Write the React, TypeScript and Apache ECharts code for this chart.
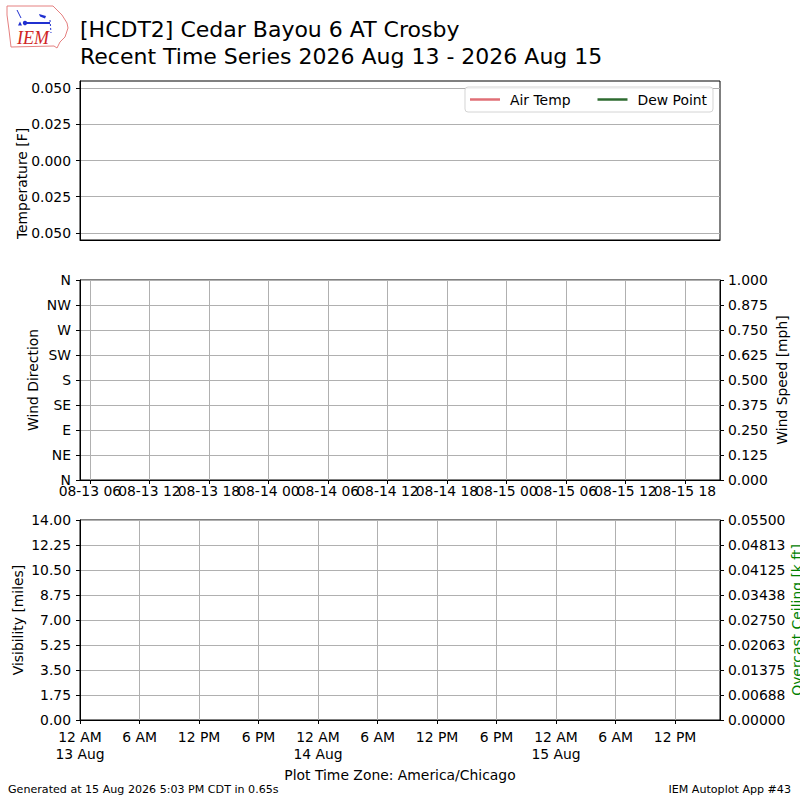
import React, { useEffect, useRef } from 'react';
import * as echarts from 'echarts';

const TITLE_LINE1 = '[HCDT2] Cedar Bayou 6 AT Crosby';
const TITLE_LINE2 = 'Recent Time Series 2026 Aug 13 - 2026 Aug 15';
const FOOTER_LEFT = 'Generated at 15 Aug 2026 5:03 PM CDT in 0.65s';
const FOOTER_RIGHT = 'IEM Autoplot App #43';
const TIMEZONE_LABEL = 'Plot Time Zone: America/Chicago';

const TIME_START = '2026-08-13T05:00:00Z';
const TIME_END = '2026-08-15T21:32:00Z';

// Observations: the station reported nothing in this window
const airTempF: [string, number][] = [];
const dewPointF: [string, number][] = [];
const windDirDeg: [string, number][] = [];
const windSpeedMph: [string, number][] = [];
const visibilityMiles: [string, number][] = [];
const ceilingKft: [string, number][] = [];

const tempTicks = [-0.05, -0.025, 0, 0.025, 0.05];
const windDirLabels = ['N', 'NE', 'E', 'SE', 'S', 'SW', 'W', 'NW', 'N'];

const utcTickTimes = [
  '2026-08-13T06:00:00Z', '2026-08-13T12:00:00Z', '2026-08-13T18:00:00Z',
  '2026-08-14T00:00:00Z', '2026-08-14T06:00:00Z', '2026-08-14T12:00:00Z',
  '2026-08-14T18:00:00Z', '2026-08-15T00:00:00Z', '2026-08-15T06:00:00Z',
  '2026-08-15T12:00:00Z', '2026-08-15T18:00:00Z',
];
const utcTickLabels = [
  '08-13 06', '08-13 12', '08-13 18', '08-14 00', '08-14 06', '08-14 12',
  '08-14 18', '08-15 00', '08-15 06', '08-15 12', '08-15 18',
];
const localTickTimes = [
  '2026-08-13T05:00:00Z', '2026-08-13T11:00:00Z', '2026-08-13T17:00:00Z',
  '2026-08-13T23:00:00Z', '2026-08-14T05:00:00Z', '2026-08-14T11:00:00Z',
  '2026-08-14T17:00:00Z', '2026-08-14T23:00:00Z', '2026-08-15T05:00:00Z',
  '2026-08-15T11:00:00Z', '2026-08-15T17:00:00Z',
];
const localTickLabels = [
  '12 AM\n13 Aug', '6 AM', '12 PM', '6 PM', '12 AM\n14 Aug', '6 AM',
  '12 PM', '6 PM', '12 AM\n15 Aug', '6 AM', '12 PM',
];

const FONT = 'DejaVu Sans';
const FS = 13.9;
const GRID_COLOR = '#b0b0b0';
const AIR_COLOR = '#e06f76';
const DEW_COLOR = '#2e6b30';
const CEIL_COLOR = '#008000';
const LOGO_BLUE = '#2030d0';

const toMs = (s: string) => Date.parse(s);
const toPts = (arr: [string, number][]) => arr.map(([t, v]) => [toMs(t), v]);

function labelFrom(times: string[], labels: string[]) {
  const ms = times.map(toMs);
  return (v: number) => {
    const i = ms.findIndex((m) => Math.abs(m - v) < 1000);
    return i >= 0 ? labels[i] : '';
  };
}

export default function App() {
  const ref = useRef<HTMLDivElement>(null);

  useEffect(() => {
    if (!ref.current) return;
    const chart = echarts.init(ref.current, undefined, { renderer: 'svg' });
    const xmin = toMs(TIME_START);
    const xmax = toMs(TIME_END);
    const utcMs = utcTickTimes.map(toMs);
    const localMs = localTickTimes.map(toMs);
    // the axis ends carry blank labels so that no real label is treated as the min/max one
    const utcLabelMs = [xmin, ...utcMs, xmax];
    const txt = { fontFamily: FONT, fontSize: FS, color: '#000' };
    const axisLine = { show: true, onZero: false, lineStyle: { color: '#000', width: 1 } };
    const tick = { show: true, length: 4, lineStyle: { color: '#000', width: 1 } };
    const split = { show: true, lineStyle: { color: GRID_COLOR, width: 1 } };
    const gridBase = {
      left: 80, right: 80, show: true, borderColor: '#000', borderWidth: 1,
      containLabel: false, outerBoundsMode: 'none',
    };
    const yName = (name: string, gap: number, extra: any = {}) => ({
      name,
      nameLocation: 'middle',
      nameRotate: 90,
      nameGap: gap,
      nameMoveOverlap: false,
      nameTextStyle: { ...txt, lineHeight: 14, ...extra },
    });

    const option: any = {
      animation: false,
      backgroundColor: '#fff',
      textStyle: { fontFamily: FONT },
      title: {
        text: TITLE_LINE1 + '\n' + TITLE_LINE2,
        left: 80,
        top: 15.5,
        padding: 0,
        textStyle: { fontFamily: FONT, fontSize: 22, lineHeight: 27, fontWeight: 'normal', color: '#000' },
      },
      legend: {
        data: ['Air Temp', 'Dew Point'],
        right: 87,
        top: 87,
        icon: 'rect',
        itemWidth: 30,
        itemHeight: 2.5,
        itemGap: 27,
        padding: [5, 6, 5, 5],
        borderColor: '#d4d4d4',
        borderWidth: 1,
        borderRadius: 3,
        backgroundColor: 'rgba(255,255,255,0.85)',
        textStyle: { fontFamily: FONT, fontSize: FS, color: '#000', lineHeight: 15, padding: [0, 0, 0, 5] },
      },
      grid: [
        { ...gridBase, top: 81, height: 159 },
        { ...gridBase, top: 280, height: 200 },
        { ...gridBase, top: 520, height: 200 },
      ],
      xAxis: [
        {
          type: 'value', gridIndex: 0, min: xmin, max: xmax,
          axisLine, axisTick: { show: false }, axisLabel: { show: false }, splitLine: { show: false },
        },
        {
          type: 'value', gridIndex: 1, min: xmin, max: xmax,
          axisLine,
          axisTick: { ...tick, customValues: utcMs },
          axisLabel: {
            ...txt, margin: 4, lineHeight: 14, customValues: utcLabelMs,
            showMinLabel: false, showMaxLabel: false, hideOverlap: false,
            formatter: labelFrom(utcTickTimes, utcTickLabels),
          },
          splitLine: { ...split, customValues: utcMs },
        },
        {
          type: 'value', gridIndex: 2, min: xmin, max: xmax,
          axisLine,
          axisTick: { ...tick, customValues: localMs },
          axisLabel: {
            ...txt, margin: 8, lineHeight: 17, customValues: localMs,
            showMinLabel: true, showMaxLabel: true, hideOverlap: false,
            formatter: labelFrom(localTickTimes, localTickLabels),
          },
          splitLine: { ...split, customValues: localMs },
          name: TIMEZONE_LABEL,
          nameLocation: 'middle',
          nameGap: 48,
          nameMoveOverlap: false,
          nameTextStyle: { ...txt },
        },
      ],
      yAxis: [
        {
          type: 'value', gridIndex: 0, min: -0.055, max: 0.055,
          axisLine,
          axisTick: { ...tick, customValues: tempTicks },
          axisLabel: { ...txt, margin: 9, customValues: tempTicks, formatter: (v: number) => Math.abs(v).toFixed(3) },
          splitLine: { ...split, customValues: tempTicks },
          ...yName('Temperature [F]', 51, { padding: [0, 46, 0, 0] }),
        },
        {
          type: 'value', gridIndex: 1, min: 0, max: 360, interval: 45,
          axisLine, axisTick: tick,
          axisLabel: { ...txt, margin: 9, formatter: (v: number) => windDirLabels[Math.round(v / 45)] ?? '' },
          splitLine: split,
          ...yName('Wind Direction', 40),
        },
        {
          type: 'value', gridIndex: 1, position: 'right', min: 0, max: 1, interval: 0.125,
          axisLine, axisTick: tick,
          axisLabel: { ...txt, margin: 8, formatter: (v: number) => v.toFixed(3) },
          splitLine: { show: false },
          ...yName('Wind Speed [mph]', 55),
        },
        {
          type: 'value', gridIndex: 2, min: 0, max: 14, interval: 1.75,
          axisLine, axisTick: tick,
          axisLabel: { ...txt, margin: 9, formatter: (v: number) => v.toFixed(2) },
          splitLine: split,
          ...yName('Visibility [miles]', 55.5),
        },
        {
          type: 'value', gridIndex: 2, position: 'right', min: 0, max: 0.055, interval: 0.006875,
          axisLine, axisTick: tick,
          axisLabel: { ...txt, margin: 8, formatter: (v: number) => (Math.round(v * 1e5 + 1e-6) / 1e5).toFixed(5) },
          splitLine: { show: false },
          ...yName('Overcast Ceiling [k ft]', 70, { color: CEIL_COLOR }),
        },
      ],
      series: [
        { name: 'Air Temp', type: 'line', xAxisIndex: 0, yAxisIndex: 0, data: toPts(airTempF), symbol: 'none', color: AIR_COLOR, lineStyle: { color: AIR_COLOR, width: 2 } },
        { name: 'Dew Point', type: 'line', xAxisIndex: 0, yAxisIndex: 0, data: toPts(dewPointF), symbol: 'none', color: DEW_COLOR, lineStyle: { color: DEW_COLOR, width: 2 } },
        { name: 'Wind Direction', type: 'scatter', xAxisIndex: 1, yAxisIndex: 1, data: toPts(windDirDeg), symbolSize: 4, color: '#1f77b4' },
        { name: 'Wind Speed', type: 'line', xAxisIndex: 1, yAxisIndex: 2, data: toPts(windSpeedMph), symbol: 'none', color: '#d62728' },
        { name: 'Visibility', type: 'line', xAxisIndex: 2, yAxisIndex: 3, data: toPts(visibilityMiles), symbol: 'none', color: '#000' },
        { name: 'Overcast Ceiling', type: 'line', xAxisIndex: 2, yAxisIndex: 4, data: toPts(ceilingKft), symbol: 'none', color: CEIL_COLOR },
      ],
      graphic: [
        {
          type: 'group',
          children: [
            {
              type: 'polygon',
              shape: { points: [[7, 6], [53, 6], [57, 10], [62, 15], [67, 23], [68, 28], [65, 37], [60, 42], [57, 48], [54, 46], [11, 47], [9, 30], [7, 15]] },
              style: { fill: 'none', stroke: '#e58080', lineWidth: 1 },
            },
            { type: 'line', shape: { x1: 23, y1: 23, x2: 50, y2: 23 }, style: { stroke: LOGO_BLUE, lineWidth: 2 } },
            { type: 'line', shape: { x1: 17, y1: 10, x2: 21, y2: 18 }, style: { stroke: LOGO_BLUE, lineWidth: 1 } },
            { type: 'circle', shape: { cx: 25, cy: 23, r: 2.2 }, style: { fill: LOGO_BLUE } },
            { type: 'polygon', shape: { points: [[18, 25.5], [20, 21.5], [22, 25.5]] }, style: { fill: LOGO_BLUE } },
            { type: 'polygon', shape: { points: [[39, 14], [46, 16], [45, 18.5], [40, 16.5]] }, style: { fill: LOGO_BLUE } },
            { type: 'line', shape: { x1: 50, y1: 20, x2: 51, y2: 33 }, style: { stroke: LOGO_BLUE, lineWidth: 1, lineDash: [2, 2] } },
            {
              type: 'text', x: 17, y: 37.5,
              style: { text: 'IEM', fontFamily: 'Liberation Serif', fontStyle: 'italic', fontSize: 18, fill: '#d02525', verticalAlign: 'middle', align: 'left' },
            },
          ],
        },
        {
          type: 'text', x: 8, y: 789,
          style: { text: FOOTER_LEFT, fontFamily: FONT, fontSize: 11.1, fill: '#000', verticalAlign: 'middle', align: 'left' },
        },
        {
          type: 'text', x: 791, y: 789,
          style: { text: FOOTER_RIGHT, fontFamily: FONT, fontSize: 11.1, fill: '#000', verticalAlign: 'middle', align: 'right' },
        },
      ],
    };

    chart.setOption(option);
    return () => chart.dispose();
  }, []);

  return (
    <div
      ref={ref}
      style={{ position: 'fixed', left: 0, top: 0, width: 800, height: 800, background: '#fff' }}
    />
  );
}
